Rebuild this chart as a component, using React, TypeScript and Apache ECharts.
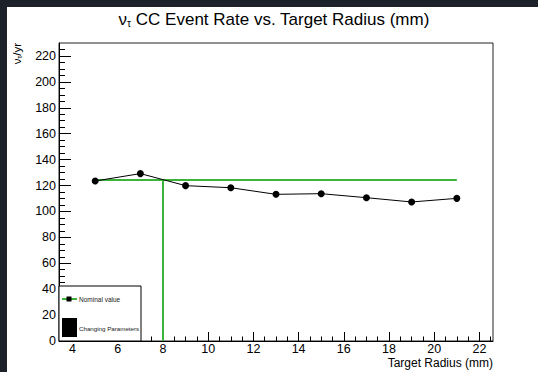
import React, { useEffect, useRef } from "react";
import * as echarts from "echarts";

// Event rate for each target radius scanned (mm -> nu_tau CC events / yr)
const radii = [5, 7, 9, 11, 13, 15, 17, 19, 21];
const rates = [123.5, 129.2, 119.9, 118.3, 113.2, 113.7, 110.6, 107.3, 110.1];

// Nominal configuration
const nominalRate = 124.3;
const nominalRadius = 8;
const nominalSpan = [5, 21];

// Axis ranges and tick labels
const xRange = [3.4, 22.6];
const yRange = [0, 230];
const xMajor = [4, 6, 8, 10, 12, 14, 16, 18, 20, 22];
const yMajor = [0, 20, 40, 60, 80, 100, 120, 140, 160, 180, 200, 220];

const FONT = "'Liberation Sans', Arial, Helvetica, sans-serif";

function stepValues(from: number, to: number, step: number): number[] {
  const out: number[] = [];
  for (let v = from; v <= to + 1e-9; v += step) out.push(Math.round(v * 100) / 100);
  return out;
}

export default function App() {
  const ref = useRef<HTMLDivElement>(null);

  useEffect(() => {
    if (!ref.current) return;
    const chart = echarts.init(ref.current, null, { renderer: "svg" });
    const xMinor = stepValues(3.5, 22.5, 0.5);
    const yMinor = stepValues(0, 225, 5);

    const commonX = {
      type: "value" as const,
      min: xRange[0],
      max: xRange[1],
      position: "bottom" as const,
      splitLine: { show: false },
    };
    const commonY = {
      type: "value" as const,
      min: yRange[0],
      max: yRange[1],
      position: "left" as const,
      splitLine: { show: false },
    };

    chart.setOption({
      animation: false,
      backgroundColor: "transparent",
      grid: {
        left: 59,
        top: 43,
        right: 45,
        bottom: 31,
        show: true,
        borderColor: "#222",
        borderWidth: 1,
        backgroundColor: "transparent",
      },
      xAxis: [
        {
          ...commonX,
          axisLine: { show: true, lineStyle: { color: "#000", width: 1 } },
          axisTick: {
            show: true,
            inside: true,
            length: 9,
            customValues: xMajor,
            lineStyle: { color: "#000" },
          },
          axisLabel: {
            customValues: xMajor,
            color: "#000",
            fontFamily: FONT,
            fontSize: 12.5,
            lineHeight: 12,
            margin: 2,
          },
        },
        {
          ...commonX,
          axisLine: { show: false },
          axisTick: {
            show: true,
            inside: true,
            length: 4.5,
            customValues: xMinor,
            lineStyle: { color: "#000" },
          },
          axisLabel: { show: false },
        },
      ],
      yAxis: [
        {
          ...commonY,
          axisLine: { show: true, lineStyle: { color: "#000", width: 1 } },
          axisTick: {
            show: true,
            inside: true,
            length: 12,
            customValues: yMajor,
            lineStyle: { color: "#000" },
          },
          axisLabel: {
            customValues: yMajor,
            color: "#000",
            fontFamily: FONT,
            fontSize: 12.5,
            margin: 3,
          },
        },
        {
          ...commonY,
          axisLine: { show: false },
          axisTick: {
            show: true,
            inside: true,
            length: 6,
            customValues: yMinor,
            lineStyle: { color: "#000" },
          },
          axisLabel: { show: false },
        },
      ],
      series: [
        {
          name: "Nominal value",
          type: "line",
          data: nominalSpan.map((r) => [r, nominalRate]),
          symbol: "none",
          lineStyle: { color: "#3cb43c", width: 2 },
          z: 2,
        },
        {
          name: "Nominal radius",
          type: "line",
          data: [
            [nominalRadius, yRange[0]],
            [nominalRadius, nominalRate],
          ],
          symbol: "none",
          lineStyle: { color: "#3cb43c", width: 2 },
          z: 2,
        },
        {
          name: "Changing Parameters",
          type: "line",
          data: radii.map((r, i) => [r, rates[i]]),
          symbol: "circle",
          symbolSize: 7,
          itemStyle: { color: "#000" },
          lineStyle: { color: "#000", width: 1 },
          z: 3,
        },
      ],
      graphic: [
        {
          type: "text",
          x: 274,
          y: 19,
          style: {
            text: "{g|ν}{s|τ}{g| CC Event Rate vs. Target Radius (mm)}",
            align: "center",
            verticalAlign: "middle",
            fill: "#000",
            rich: {
              g: { fontSize: 17, fontFamily: FONT, fill: "#000" },
              s: { fontSize: 10, fontFamily: FONT, fill: "#000", padding: [8, 0, 0, 0] },
            },
          },
        },
        {
          type: "text",
          x: 17,
          y: 43,
          rotation: Math.PI / 2,
          style: {
            text: "{g|ν}{s|τ}{g|/yr}",
            align: "right",
            verticalAlign: "middle",
            fill: "#000",
            rich: {
              g: { fontSize: 11.5, fontFamily: FONT, fill: "#000" },
              s: { fontSize: 7, fontFamily: FONT, fill: "#000", padding: [5, 0, 0, 0] },
            },
          },
        },
        {
          type: "text",
          x: 493,
          y: 363,
          style: {
            text: "Target Radius (mm)",
            align: "right",
            verticalAlign: "middle",
            fontSize: 12,
            lineHeight: 11,
            fontFamily: FONT,
            fill: "#000",
          },
        },
        // legend box
        {
          type: "rect",
          shape: { x: 59, y: 286, width: 82, height: 55 },
          style: { fill: "#fff", stroke: "#000", lineWidth: 1 },
          z: 10,
        },
        {
          type: "line",
          shape: { x1: 62, y1: 299, x2: 77, y2: 299 },
          style: { stroke: "#3cb43c", lineWidth: 2 },
          z: 11,
        },
        {
          type: "rect",
          shape: { x: 66.5, y: 296.5, width: 5, height: 5 },
          style: { fill: "#000" },
          z: 12,
        },
        {
          type: "text",
          x: 79,
          y: 299,
          style: {
            text: "Nominal value",
            verticalAlign: "middle",
            fontSize: 6.5,
            fontFamily: FONT,
            fill: "#222",
          },
          z: 11,
        },
        {
          type: "rect",
          shape: { x: 62, y: 318, width: 15, height: 19 },
          style: { fill: "#000" },
          z: 11,
        },
        {
          type: "text",
          x: 79,
          y: 328,
          style: {
            text: "Changing Parameters",
            verticalAlign: "middle",
            fontSize: 6.2,
            fontFamily: FONT,
            fill: "#222",
          },
          z: 11,
        },
      ],
    });
    return () => chart.dispose();
  }, []);

  return (
    <div style={{ position: "fixed", left: 0, top: 0, width: 538, height: 372, background: "#1d212a" }}>
      <div style={{ position: "absolute", left: 7, top: 7, right: 0, bottom: 0, background: "#fff" }} />
      <div ref={ref} style={{ position: "absolute", left: 0, top: 0, width: 538, height: 372 }} />
    </div>
  );
}
